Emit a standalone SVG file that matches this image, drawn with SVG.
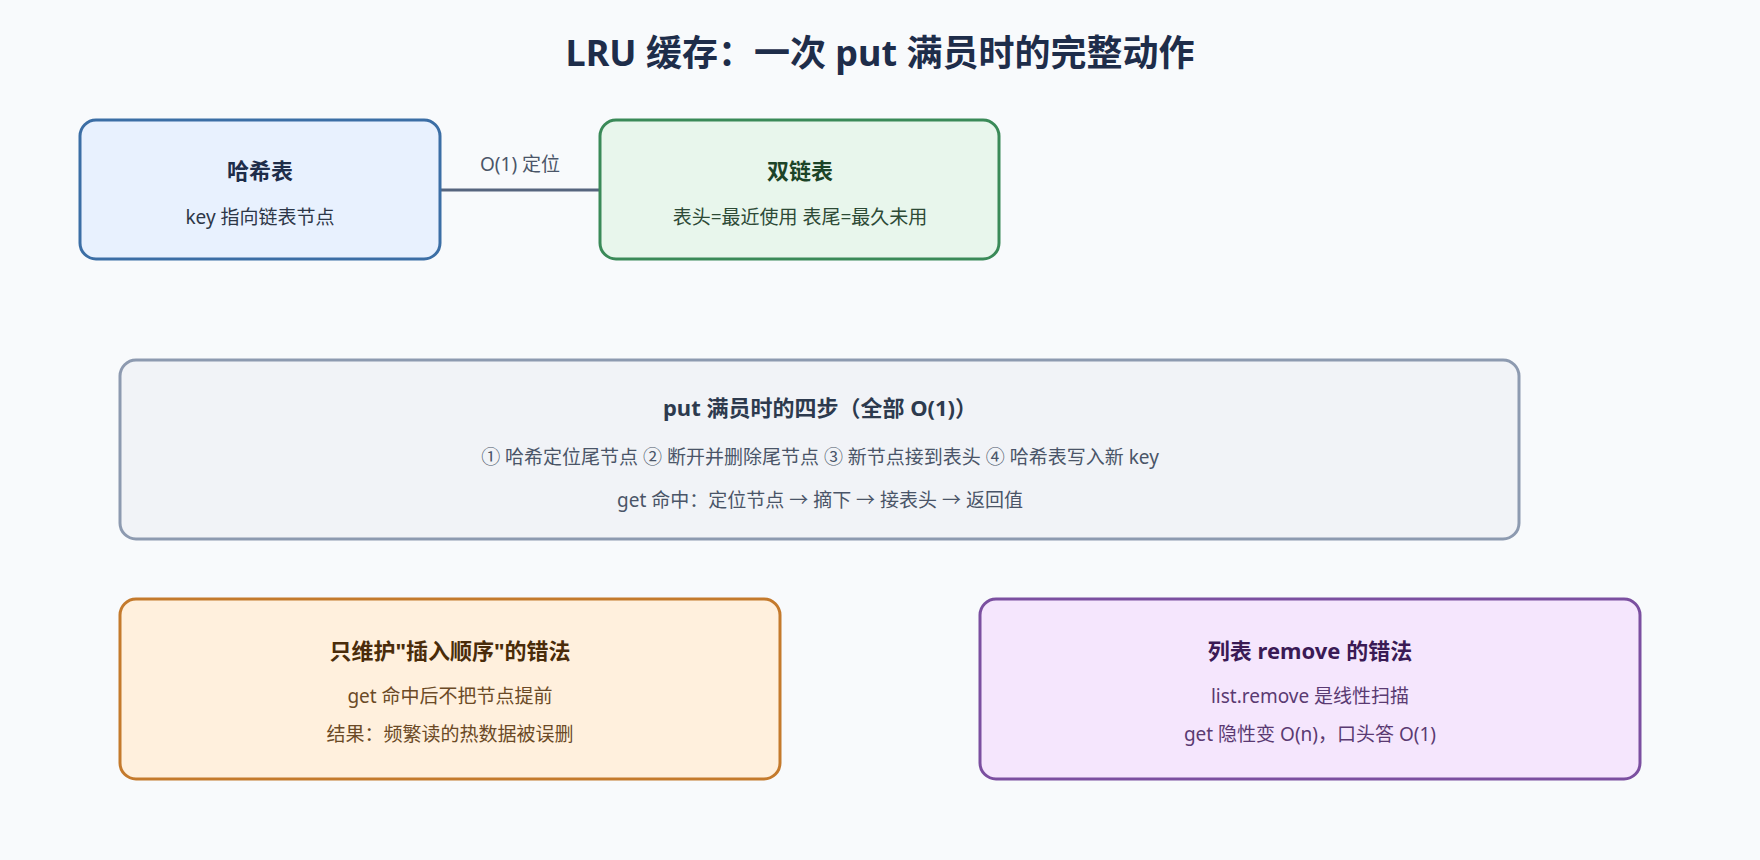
<svg xmlns="http://www.w3.org/2000/svg" width="1760" height="860" viewBox="0 0 1760 860">
<style>
text{font-family:"Noto Sans","Noto Sans CJK SC",sans-serif;text-anchor:middle}
.t{font-size:22px;font-weight:bold}
.s{font-size:19px}
</style>
<rect width="1760" height="860" fill="#f8fafc"/>
<text x="880" y="66" style="font-size:36px;font-weight:bold" fill="#1e2d4a">LRU 缓存：一次 put 满员时的完整动作</text>
<g id="connectors">
<line x1="440" y1="190" x2="600" y2="190" stroke="#56657e" stroke-width="3"/>
<text x="520" y="171" class="s" fill="#4a5568">O(1) 定位</text>
</g>
<g id="hash">
<rect x="80" y="120" width="360" height="139" rx="16" fill="#e8f1fe" stroke="#3b6ea5" stroke-width="3"/>
<text x="260" y="179" class="t" fill="#1e2d4a">哈希表</text>
<text x="260" y="224" class="s" fill="#2d3748">key 指向链表节点</text>
</g>
<g id="list">
<rect x="600" y="120" width="399" height="139" rx="16" fill="#e8f6ec" stroke="#3a8a58" stroke-width="3"/>
<text x="800" y="179" class="t" fill="#1c4428">双链表</text>
<text x="800" y="224" class="s" fill="#2d4a36">表头=最近使用 表尾=最久未用</text>
</g>
<g id="steps">
<rect x="120" y="360" width="1399" height="179" rx="16" fill="#f1f3f7" stroke="#8d9ab0" stroke-width="3"/>
<text x="820" y="416" class="t" fill="#2d3a4e">put 满员时的四步（全部 O(1)）</text>
<text x="820" y="464" class="s" fill="#4a5568">① 哈希定位尾节点 ② 断开并删除尾节点 ③ 新节点接到表头 ④ 哈希表写入新 key</text>
<text x="820" y="507" class="s" fill="#4a5568">get 命中：定位节点 → 摘下 → 接表头 → 返回值</text>
</g>
<g id="wrong1">
<rect x="120" y="599" width="660" height="180" rx="16" fill="#fff0dd" stroke="#c47a2c" stroke-width="3"/>
<text x="450" y="659" class="t" fill="#4a2c0a">只维护"插入顺序"的错法</text>
<text x="450" y="703" class="s" fill="#6b4a26">get 命中后不把节点提前</text>
<text x="450" y="741" class="s" fill="#6b4a26">结果：频繁读的热数据被误删</text>
</g>
<g id="wrong2">
<rect x="980" y="599" width="660" height="180" rx="16" fill="#f5e6fd" stroke="#7b4fa0" stroke-width="3"/>
<text x="1310" y="659" class="t" fill="#3a1a55">列表 remove 的错法</text>
<text x="1310" y="703" class="s" fill="#5a3a72">list.remove 是线性扫描</text>
<text x="1310" y="741" class="s" fill="#5a3a72">get 隐性变 O(n)，口头答 O(1)</text>
</g>
</svg>
